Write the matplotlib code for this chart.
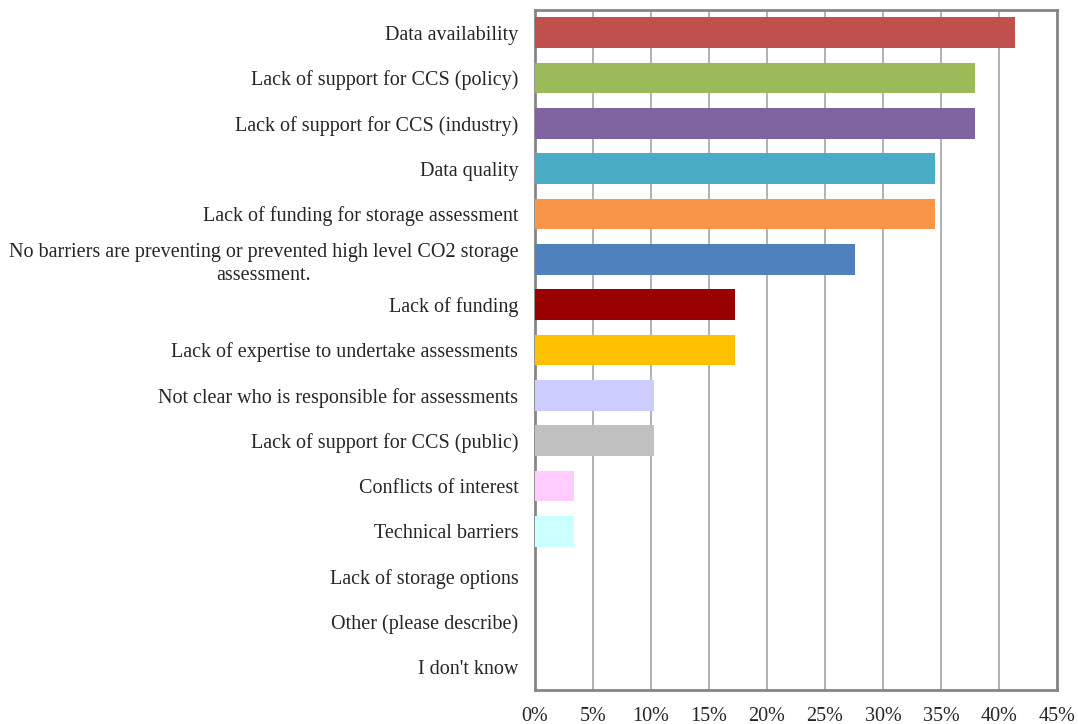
import matplotlib.pyplot as plt
from matplotlib.ticker import PercentFormatter

plt.rcParams['font.family'] = ['Liberation Serif', 'DejaVu Serif']

categories = [
    "Data availability",
    "Lack of support for CCS (policy)",
    "Lack of support for CCS (industry)",
    "Data quality",
    "Lack of funding for storage assessment",
    "No barriers are preventing or prevented high level CO2 storage\nassessment.",
    "Lack of funding",
    "Lack of expertise to undertake assessments",
    "Not clear who is responsible for assessments",
    "Lack of support for CCS (public)",
    "Conflicts of interest",
    "Technical barriers",
    "Lack of storage options",
    "Other (please describe)",
    "I don't know",
]
values = [41.4, 37.9, 37.9, 34.5, 34.5, 27.6, 17.2, 17.2, 10.3, 10.3, 3.4, 3.4, 0, 0, 0]
colors = ["#C0504D", "#9BBB59", "#8064A2", "#4BACC6", "#F79646", "#4F81BD",
          "#990000", "#FFC000", "#CCCCFF", "#C0C0C0", "#FFCCFF", "#CCFFFF",
          "#FFFFFF", "#FFFFFF", "#FFFFFF"]

fig = plt.figure(figsize=(10.78, 7.24), dpi=100)
ax = fig.add_axes([535 / 1078, 34 / 724, 522 / 1078, 680 / 724])

ypos = list(range(len(categories)))
ax.barh(ypos, values, height=0.68, color=colors, zorder=3)
ax.set_ylim(len(categories) - 0.5, -0.5)
ax.set_xlim(0, 45)
ax.set_xticks(range(0, 46, 5))
ax.xaxis.set_major_formatter(PercentFormatter(decimals=0))
ax.set_yticks(ypos)
ax.set_yticklabels(categories, multialignment="center", linespacing=1.3)
ax.tick_params(axis="y", length=0, pad=12, labelsize=14.5, colors="#262626")
ax.tick_params(axis="x", length=0, pad=12, labelsize=14.5, colors="#262626")

ax.grid(axis="x", color="#A6A6A6", linewidth=1.2, zorder=0)
for s in ax.spines.values():
    s.set_color("#868686")
    s.set_linewidth(2)

fig.savefig("out.png", dpi=100)
